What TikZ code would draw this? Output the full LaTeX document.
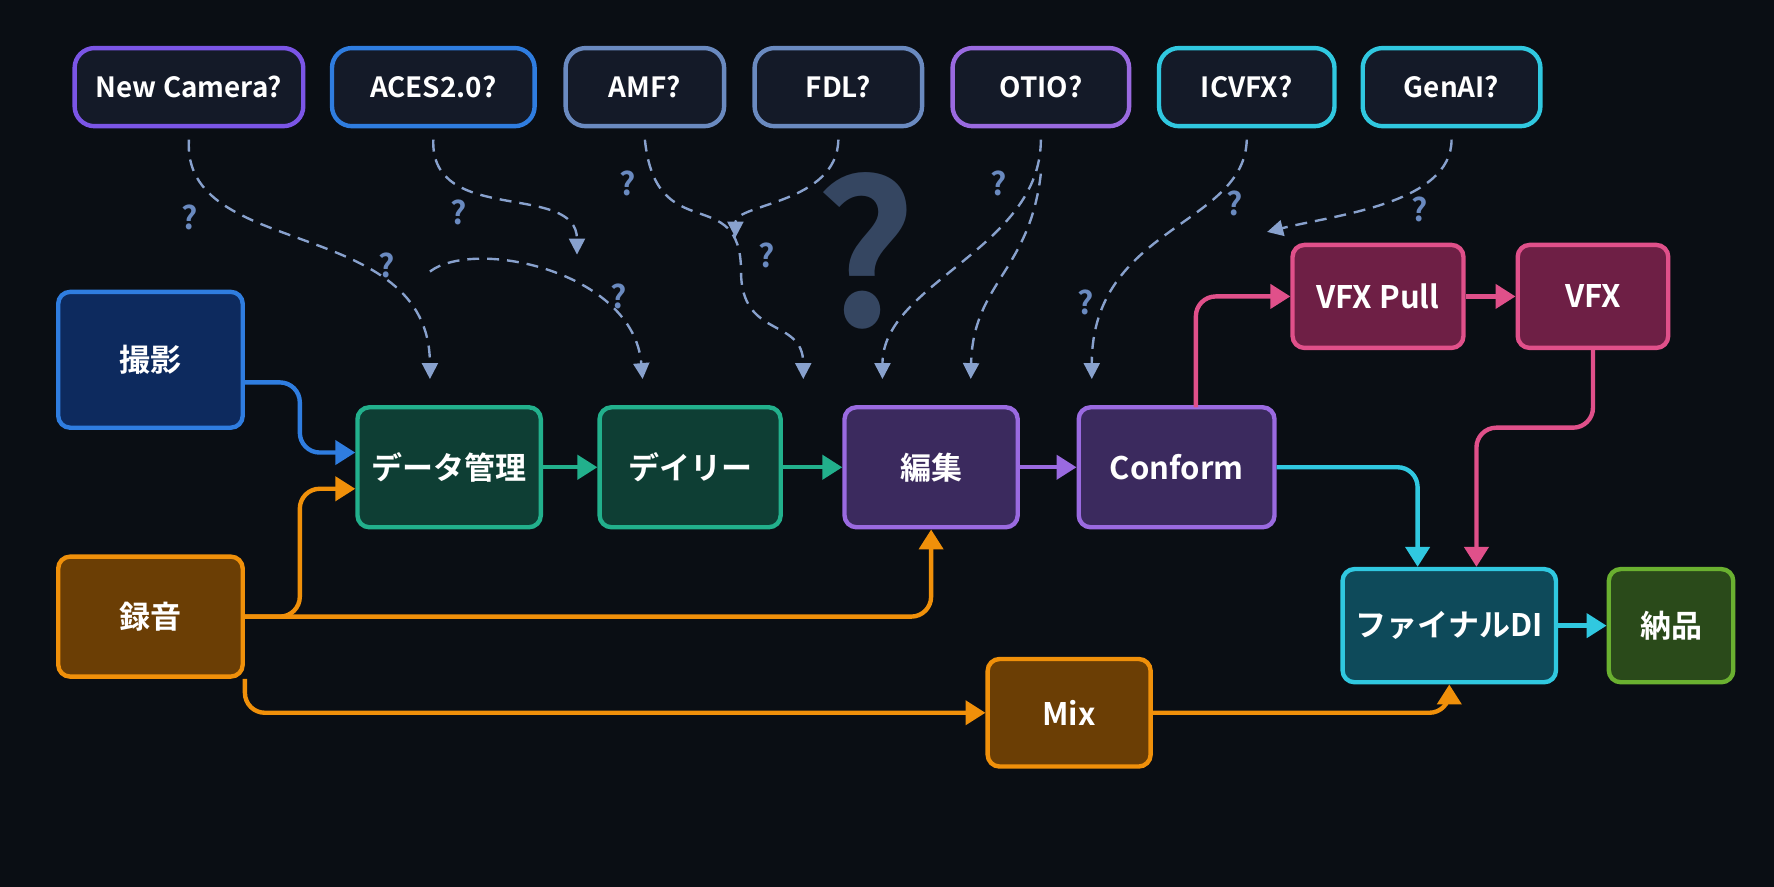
\documentclass[tikz,border=0pt]{standalone}
\usepackage{fontspec}
\setmainfont{Noto Sans CJK JP}[BoldFont={Noto Sans CJK JP Bold}]
\usetikzlibrary{arrows.meta}
\definecolor{bg}{HTML}{0A0E14}
\definecolor{blueF}{HTML}{0D2A5E}\definecolor{blueB}{HTML}{2F7DE0}
\definecolor{orF}{HTML}{6B3E05}\definecolor{orB}{HTML}{F0900A}
\definecolor{tealF}{HTML}{0E3E34}\definecolor{tealB}{HTML}{22B08C}
\definecolor{purF}{HTML}{3B2A5E}\definecolor{purB}{HTML}{9A6AE0}
\definecolor{pinkF}{HTML}{6E1F45}\definecolor{pinkB}{HTML}{E0508A}
\definecolor{cyF}{HTML}{0E4A5A}\definecolor{cyB}{HTML}{30C8E0}
\definecolor{grF}{HTML}{2A4A1A}\definecolor{grB}{HTML}{6AB030}
\definecolor{topF}{HTML}{141A28}
\definecolor{qcol}{HTML}{6A8AC0}
\begin{document}
\begin{tikzpicture}[x=0.01cm, y=-0.01cm]
    % Define Styles
        \tikzstyle{block} = [
            rectangle, rounded corners=3pt,
            draw, line width=1.1pt,
            align=center, text=white,
            font=\fontsize{7.8}{9}\selectfont\bfseries
        ]
        \tikzstyle{tag} = [
            rectangle, rounded corners=5pt,
            draw, line width=1.1pt, fill=topF,
            minimum height=0.69cm, text=white,
            font=\fontsize{7}{8}\selectfont\bfseries
        ]
        \tikzstyle{line} = [
            draw, line width=1.1pt, rounded corners=5pt,
            -{Triangle[length=5pt,width=6pt]}
        ]
        \tikzstyle{dline} = [
            draw, densely dashed, line width=0.6pt, color=qcol!80,
            -{Triangle[length=4pt,width=4pt]}
        ]
        \tikzstyle{q} = [text=qcol, font=\fontsize{8}{9}\selectfont\bfseries]
    \useasboundingbox (0,0) rectangle (1568,784);
    \fill [bg] (0,0) rectangle (1568,784);
    % Big question mark
        \node [text=qcol!45!bg, font=\fontsize{50}{50}\selectfont\bfseries] (bigq) at (765,222) {?};
    % Place nodes
        \node [block, fill=blueF, draw=blueB, minimum width=1.63cm, minimum height=1.2cm] (shoot) at (133,318) {撮影};
        \node [block, fill=orF, draw=orB, minimum width=1.63cm, minimum height=1.06cm] (rec) at (133,545) {録音};
        \node [block, fill=tealF, draw=tealB, minimum width=1.62cm, minimum height=1.06cm] (data) at (397,413) {データ管理};
        \node [block, fill=tealF, draw=tealB, minimum width=1.6cm, minimum height=1.06cm] (daily) at (610,413) {デイリー};
        \node [block, fill=purF, draw=purB, minimum width=1.53cm, minimum height=1.06cm] (edit) at (823,413) {編集};
        \node [block, fill=purF, draw=purB, minimum width=1.73cm, minimum height=1.06cm] (conf) at (1040,413) {Conform};
        \node [block, fill=pinkF, draw=pinkB, minimum width=1.51cm, minimum height=0.91cm] (pull) at (1218,262) {VFX Pull};
        \node [block, fill=pinkF, draw=pinkB, minimum width=1.33cm, minimum height=0.91cm] (vfx) at (1408,262) {VFX};
        \node [block, fill=cyF, draw=cyB, minimum width=1.78cm, minimum height=1.0cm] (di) at (1281,553) {ファイナルDI};
        \node [block, fill=grF, draw=grB, minimum width=1.1cm, minimum height=1.0cm] (deliv) at (1477,553) {納品};
        \node [block, fill=orF, draw=orB, minimum width=1.44cm, minimum height=0.95cm] (mix) at (945,630) {Mix};
        \node [tag, draw=purB!80!blue, minimum width=2.02cm] (cam) at (167,77) {New Camera?};
        \node [tag, draw=blueB, minimum width=1.79cm] (aces) at (383,77) {ACES2.0?};
        \node [tag, draw=qcol, minimum width=1.4cm] (amf) at (570,77) {AMF?};
        \node [tag, draw=qcol, minimum width=1.48cm] (fdl) at (741,77) {FDL?};
        \node [tag, draw=purB, minimum width=1.56cm] (otio) at (920,77) {OTIO?};
        \node [tag, draw=cyB, minimum width=1.55cm] (icv) at (1102,77) {ICVFX?};
        \node [tag, draw=cyB, minimum width=1.57cm] (gen) at (1283,77) {GenAI?};
    % Small question marks
        \foreach \qx/\qy [count=\i] in {168/192, 405/188, 342/235, 547/262, 555/162, 678/226, 883/162, 1091/180, 1255/185, 960/267}
            \node [q] (q\i) at (\qx,\qy) {?};
    % Dashed links
        \path [dline] (cam.south) ++(0,10) .. controls (160,230) and (380,190) .. (380,335);
        \path [dline] (aces.south) ++(0,10) .. controls (380,200) and (510,160) .. (510,225);
        \path [dline] (380,240) .. controls (420,210) and (560,240) .. (568,335);
        \path [dline] (amf.south) ++(0,10) .. controls (580,220) and (655,160) .. (655,240) .. controls (655,300) and (710,280) .. (710,335);
        \path [dline] (fdl.south) ++(0,10) .. controls (740,180) and (650,180) .. (650,210);
        \path [dline] (otio.south) ++(0,10) .. controls (920,220) and (780,250) .. (780,335);
        \path [dline] (otio.south) ++(0,40) .. controls (910,240) and (860,250) .. (858,335);
        \path [dline] (icv.south) ++(0,10) .. controls (1100,200) and (965,200) .. (965,335);
        \path [dline] (gen.south) ++(0,10) .. controls (1283,180) and (1180,190) .. (1120,205);
    % Draw edges
        \path [line, blueB] (shoot.east |- 0,338) -| (265,400) -- (data.west |- 0,400);
        \path [line, orB] (rec.east) -| (265,432) -- (data.west |- 0,432);
        \path [line, orB] (rec.east) -| (edit.south);
        \path [line, orB] (rec.south east) |- (mix.west);
        \path [line, orB] (mix.east) -| (di.south);
        \path [line, tealB] (data) -- (daily);
        \path [line, tealB] (daily) -- (edit);
        \path [line, purB] (edit) -- (conf);
        \path [line, pinkB] (conf.north |- 0,360) ++(17,0) |- (pull.west);
        \path [line, pinkB] (pull) -- (vfx);
        \path [line, pinkB] (vfx.south) |- (1305,378) -- (di.north -| 1305,0);
        \path [line, cyB] (conf.east) -| (di.north -| 1253,0);
        \path [line, cyB] (di) -- (deliv);
\end{tikzpicture}
\end{document}
